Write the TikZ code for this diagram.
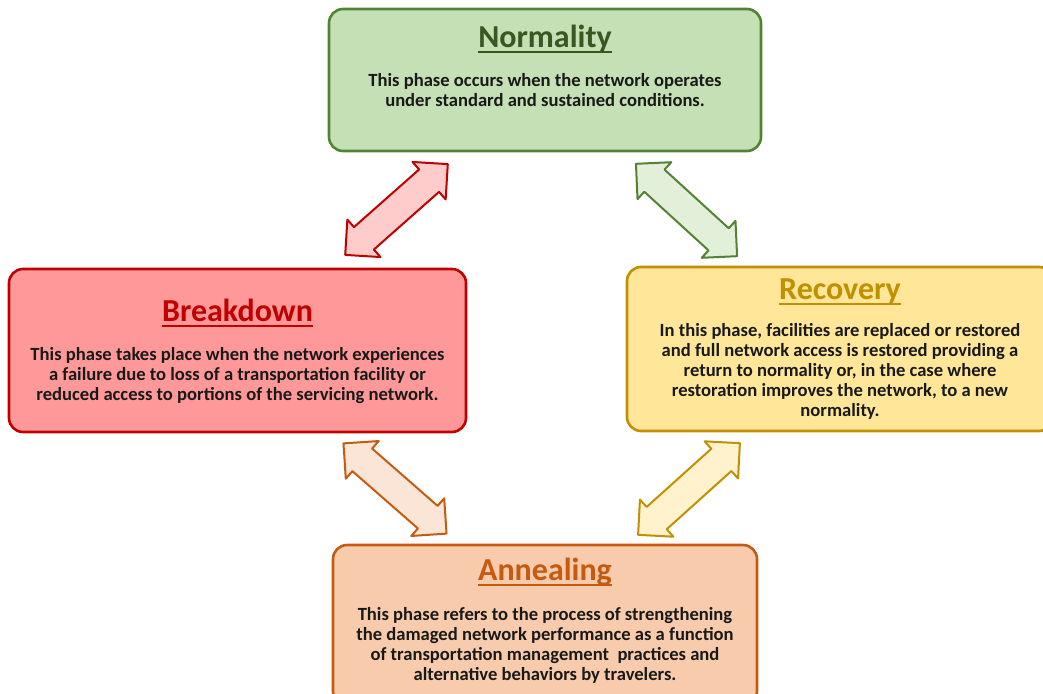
\documentclass[tikz,border=0pt]{standalone}
\usepackage{fontspec}
\setmainfont{Carlito}
\begin{document}
\begin{tikzpicture}[x=1pt,y=-1pt,
  phasebox/.style={rectangle, rounded corners=14pt, line width=2.6pt, inner sep=0pt},
  phasetitle/.style={anchor=base, inner sep=0pt, font=\fontsize{32}{36}\selectfont\bfseries},
  phasetext/.style={anchor=base, inner sep=0pt, align=center, text=black!90,
    font=\fontsize{18.6}{20}\selectfont\bfseries},
  uline/.style={line width=2pt},
  dblarrow/.pic={\path[pic actions] (-68.5,0) -- (-43.5,-25) -- (-43.5,-15) -- (43.5,-15)
     -- (43.5,-25) -- (68.5,0) -- (43.5,25) -- (43.5,15) -- (-43.5,15) -- (-43.5,25) -- cycle;},
  arrowshape/.style={line width=2pt, line join=round}
]
\definecolor{grnfill}{HTML}{C5E0B4}
\definecolor{grnline}{HTML}{548235}
\definecolor{grndark}{HTML}{385723}
\definecolor{grnlight}{HTML}{E2F0D9}
\definecolor{redfill}{HTML}{FF9999}
\definecolor{redline}{HTML}{C00000}
\definecolor{redlight}{HTML}{FFCCCC}
\definecolor{yelfill}{HTML}{FFE699}
\definecolor{yelline}{HTML}{BF9000}
\definecolor{yellight}{HTML}{FFF2CC}
\definecolor{orafill}{HTML}{F8CBAD}
\definecolor{oraline}{HTML}{C55A11}
\definecolor{oralight}{HTML}{FBE5D6}

\useasboundingbox (0,0) rectangle (1043,693);
\clip (0,0) rectangle (1043,693);

% phase boxes
\node[phasebox, fill=grnfill, draw=grnline, minimum width=432pt, minimum height=142pt] (normality) at (545,80) {};
\node[phasebox, fill=redfill, draw=redline, minimum width=457pt, minimum height=163pt] (breakdown) at (237.5,350.5) {};
\node[phasebox, fill=yelfill, draw=yelline, minimum width=426pt, minimum height=164pt] (recovery) at (840,349) {};
\node[phasebox, fill=orafill, draw=oraline, minimum width=424pt, minimum height=160pt] (annealing) at (545,625) {};

% titles
\node[phasetitle, text=grndark] (normtitle) at (545,47.5) {Normality};
\draw[uline, grndark] ([yshift=-4.5pt]normtitle.base west) -- ([yshift=-4.5pt]normtitle.base east);
\node[phasetitle, text=redline] (breaktitle) at (237.5,321.5) {Breakdown};
\draw[uline, redline] ([yshift=-4.5pt]breaktitle.base west) -- ([yshift=-4.5pt]breaktitle.base east);
\node[phasetitle, text=yelline] (recotitle) at (840,299) {Recovery};
\draw[uline, yelline] ([yshift=-4.5pt]recotitle.base west) -- ([yshift=-4.5pt]recotitle.base east);
\node[phasetitle, text=oraline] (annealtitle) at (545,580) {Annealing};
\draw[uline, oraline] ([yshift=-4.5pt]annealtitle.base west) -- ([yshift=-4.5pt]annealtitle.base east);

% descriptions (anchored at the baseline of their last line)
\node[phasetext] (normtext) at (545,106.7) {This phase occurs when the network operates\\under standard and sustained conditions.};
\node[phasetext] (breaktext) at (237.5,400) {This phase takes place when the network experiences\\a failure due to loss of a transportation facility or\\reduced access to portions of the servicing network.};
\node[phasetext] (recotext) at (840,416.7) {In this phase, facilities are replaced or restored\\and full network access is restored providing a\\return to normality or, in the case where\\restoration improves the network, to a new\\normality.};
\node[phasetext] (annealtext) at (545,680) {This phase refers to the process of strengthening\\the damaged network performance as a function\\of transportation management\ \ practices and\\alternative behaviors by travelers.};

% transition arrows between phases
\pic[arrowshape, fill=redlight, draw=redline, rotate=41.5] at (396.5,209.5) {dblarrow};
\pic[arrowshape, fill=grnlight, draw=grnline, rotate=-42.4] at (686.5,210) {dblarrow};
\pic[arrowshape, fill=oralight, draw=oraline, rotate=-41.2] at (395,488.5) {dblarrow};
\pic[arrowshape, fill=yellight, draw=yelline, rotate=42] at (689,489) {dblarrow};
\end{tikzpicture}
\end{document}
